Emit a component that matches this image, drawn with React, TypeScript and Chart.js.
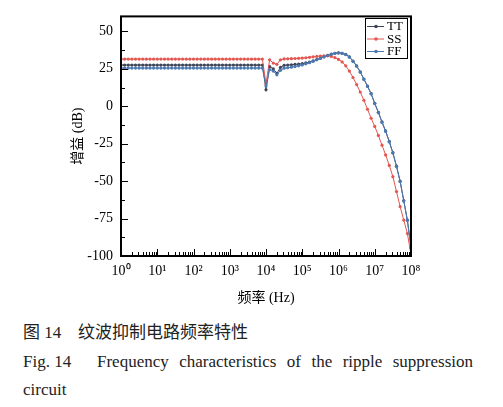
import React, { useEffect, useRef } from "react";
import { Chart, registerables } from "chart.js";

Chart.register(...registerables);

// log10 of frequency (Hz) for each sample
const EXPONENTS = [
  0, 0.1, 0.2, 0.3, 0.4, 0.5, 0.6, 0.7, 0.8, 0.9,
  1, 1.1, 1.2, 1.3, 1.4, 1.5, 1.6, 1.7, 1.8, 1.9,
  2, 2.1, 2.2, 2.3, 2.4, 2.5, 2.6, 2.7, 2.8, 2.9,
  3, 3.1, 3.2, 3.3, 3.4, 3.5, 3.6, 3.7, 3.8, 3.9,
  4, 4.1, 4.2, 4.3, 4.4, 4.5, 4.6, 4.7, 4.8, 4.9,
  5, 5.1, 5.2, 5.3, 5.4, 5.5, 5.6, 5.7, 5.8, 5.9,
  6, 6.1, 6.2, 6.3, 6.4, 6.5, 6.6, 6.7, 6.8, 6.9,
  7, 7.1, 7.2, 7.3, 7.4, 7.5, 7.6, 7.7, 7.8, 7.9,
  8,
];

const TT = [
  27.5, 27.5, 27.5, 27.5, 27.5, 27.5, 27.5, 27.5, 27.5, 27.5,
  27.5, 27.5, 27.5, 27.5, 27.5, 27.5, 27.5, 27.5, 27.5, 27.5,
  27.5, 27.5, 27.5, 27.5, 27.5, 27.5, 27.5, 27.5, 27.5, 27.5,
  27.5, 27.5, 27.5, 27.5, 27.5, 27.5, 27.5, 27.5, 27.5, 27.5,
  11, 26.5, 25, 22, 26, 27.3, 27.5, 27.7, 27.9, 28.1,
  28.4, 28.9, 29.5, 30.3, 31.2, 32.1, 33, 34, 34.8, 35.4,
  35.7, 35.4, 34.6, 33, 30.2, 27, 23, 18.2, 13.5, 8.5,
  2, -4, -10.5, -16.5, -23.5, -31, -40, -50, -63, -76,
  -94,
];

const SS = [
  31.5, 31.5, 31.5, 31.5, 31.5, 31.5, 31.5, 31.5, 31.5, 31.5,
  31.5, 31.5, 31.5, 31.5, 31.5, 31.5, 31.5, 31.5, 31.5, 31.5,
  31.5, 31.5, 31.5, 31.5, 31.5, 31.5, 31.5, 31.5, 31.5, 31.5,
  31.5, 31.5, 31.5, 31.5, 31.5, 31.5, 31.5, 31.5, 31.5, 31.5,
  15, 31, 28.8, 28, 31, 31.6, 31.7, 31.8, 31.9, 32,
  32.2, 32.4, 32.7, 33, 33.3, 33.5, 33.7, 33.7, 33.3, 32.5,
  31.3, 29.6, 27, 23.5, 19.2, 14.5, 9.5, 4, -2, -8,
  -13.5, -19.5, -26, -32.5, -39.5, -47, -57, -67, -76, -85,
  -99,
];

const FF = [
  25.5, 25.5, 25.5, 25.5, 25.5, 25.5, 25.5, 25.5, 25.5, 25.5,
  25.5, 25.5, 25.5, 25.5, 25.5, 25.5, 25.5, 25.5, 25.5, 25.5,
  25.5, 25.5, 25.5, 25.5, 25.5, 25.5, 25.5, 25.5, 25.5, 25.5,
  25.5, 25.5, 25.5, 25.5, 25.5, 25.5, 25.5, 25.5, 25.5, 25.5,
  13.5, 24.5, 23.5, 21, 24, 25.4, 25.7, 26.1, 26.5, 27,
  27.6, 28.3, 29.1, 30, 31, 32, 33, 33.9, 34.7, 35.3,
  35.6, 35.3, 34.5, 32.8, 30, 26.7, 22.7, 17.9, 13.2, 8.2,
  1.7, -4.3, -10.8, -16.8, -23.8, -31.3, -40.3, -50.3, -63.3, -76.3,
  -95,
];

const SERIES_NAMES = ["TT", "SS", "FF"];
const SERIES_COLORS = ["#3f4556", "#e2574f", "#4a79b3"];
const X_TICKS = [1, 10, 100, 1e3, 1e4, 1e5, 1e6, 1e7, 1e8];
const Y_TICKS = [-100, -75, -50, -25, 0, 25, 50];
const SUPERSCRIPTS = ["\u2070", "\u00b9", "\u00b2", "\u00b3", "\u2074", "\u2075", "\u2076", "\u2077", "\u2078"];

const FONT = "'Liberation Serif', 'Times New Roman', 'Noto Sans CJK SC', serif";

const framePlugin = {
  id: "frameTicksLegend",
  afterDatasetsDraw(chart: any) {
    const { ctx, chartArea: a, scales } = chart;
    const xs = scales.x;
    const ys = scales.y;
    ctx.save();
    ctx.strokeStyle = "#000";
    ctx.lineWidth = 1;
    ctx.beginPath();
    // y ticks (inside, left axis)
    for (let i = 0; i < Y_TICKS.length; i++) {
      const v = Y_TICKS[i];
      const py = Math.round(ys.getPixelForValue(v)) + 0.5;
      ctx.moveTo(a.left, py);
      ctx.lineTo(a.left + 7, py);
      if (i < Y_TICKS.length - 1) {
        const pm = Math.round(ys.getPixelForValue(v + 12.5)) + 0.5;
        ctx.moveTo(a.left, pm);
        ctx.lineTo(a.left + 4, pm);
      }
    }
    // x ticks (inside, bottom axis)
    for (let k = 0; k < X_TICKS.length; k++) {
      const v = X_TICKS[k];
      const px = Math.round(xs.getPixelForValue(v)) + 0.5;
      ctx.moveTo(px, a.bottom);
      ctx.lineTo(px, a.bottom - 7);
      if (k < X_TICKS.length - 1) {
        for (let m = 2; m <= 9; m++) {
          const pm = Math.round(xs.getPixelForValue(v * m)) + 0.5;
          ctx.moveTo(pm, a.bottom);
          ctx.lineTo(pm, a.bottom - 4);
        }
      }
    }
    ctx.stroke();
    // frame
    ctx.lineWidth = 2;
    ctx.strokeRect(a.left, a.top, a.right - a.left, a.bottom - a.top);

    // legend
    const bx = 365, by = 18, bw = 42, bh = 40;
    ctx.fillStyle = "#fff";
    ctx.fillRect(bx, by, bw, bh);
    ctx.lineWidth = 1;
    ctx.strokeStyle = "#000";
    ctx.strokeRect(bx + 0.5, by + 0.5, bw, bh);
    ctx.font = "13px " + FONT;
    ctx.textBaseline = "middle";
    ctx.textAlign = "left";
    const rows = [26.5, 39, 51.5];
    chart.data.datasets.forEach((ds: any, i: number) => {
      const ry = rows[i];
      ctx.strokeStyle = ds.borderColor;
      ctx.lineWidth = 1;
      ctx.beginPath();
      ctx.moveTo(367, ry);
      ctx.lineTo(384, ry);
      ctx.stroke();
      ctx.fillStyle = ds.borderColor;
      ctx.beginPath();
      ctx.arc(376, ry, 1.8, 0, Math.PI * 2);
      ctx.fill();
      ctx.fillStyle = "#000";
      ctx.fillText(ds.label, 387, ry + 0.5);
    });
    ctx.restore();
  },
};

export default function App() {
  const canvasRef = useRef<HTMLCanvasElement | null>(null);

  useEffect(() => {
    if (!canvasRef.current) return;
    const freqs = EXPONENTS.map((e) => Math.pow(10, e));
    const series = [TT, SS, FF];
    const orders = [2, 1, 0];
    const chart = new Chart(canvasRef.current, {
      type: "line",
      data: {
        datasets: series.map((vals, i) => ({
          label: SERIES_NAMES[i],
          data: vals.map((v, j) => ({ x: freqs[j], y: v })),
          borderColor: SERIES_COLORS[i],
          backgroundColor: SERIES_COLORS[i],
          pointBackgroundColor: SERIES_COLORS[i],
          pointBorderWidth: 0,
          pointRadius: 1.6,
          borderWidth: 1,
          tension: 0,
          fill: false,
          order: orders[i],
        })),
      },
      options: {
        responsive: false,
        animation: false,
        devicePixelRatio: 1,
        layout: { padding: { top: 14, right: 92, bottom: 0, left: 0 } },
        plugins: {
          legend: { display: false },
          tooltip: { enabled: false },
        },
        scales: {
          x: {
            type: "logarithmic",
            min: 1,
            max: 1e8,
            grid: { display: false, drawTicks: false },
            border: { display: false },
            afterBuildTicks: (s: any) => {
              s.ticks = X_TICKS.map((v) => ({ value: v }));
            },
            afterFit: (s: any) => {
              s.height = 64;
            },
            ticks: {
              autoSkip: false,
              maxRotation: 0,
              padding: 7,
              color: "#000",
              font: { family: FONT, size: 14 },
              callback: (v: any) => "10" + SUPERSCRIPTS[Math.round(Math.log10(Number(v)))],
            },
            title: {
              display: true,
              text: "频率 (Hz)",
              color: "#000",
              font: { family: FONT, size: 14 },
              padding: { top: 0, bottom: 13 },
            },
          },
          y: {
            type: "linear",
            min: -100,
            max: 60,
            grid: { display: false, drawTicks: false },
            border: { display: false },
            afterBuildTicks: (s: any) => {
              s.ticks = Y_TICKS.map((v) => ({ value: v }));
            },
            afterFit: (s: any) => {
              s.width = 121;
            },
            ticks: {
              padding: 8,
              color: "#000",
              font: { family: FONT, size: 14 },
            },
            title: {
              display: true,
              text: "增益 (dB)",
              color: "#000",
              font: { family: FONT, size: 14 },
              padding: { top: 70, bottom: 0 },
            },
          },
        },
      } as any,
      plugins: [framePlugin],
    });
    return () => chart.destroy();
  }, []);

  const textStyle: React.CSSProperties = {
    position: "absolute",
    fontFamily: FONT,
    fontSize: 17,
    lineHeight: "20px",
    color: "#222",
    whiteSpace: "nowrap",
  };

  return (
    <div style={{ position: "absolute", left: 0, top: 0, width: 503, height: 407, background: "#fff", overflow: "hidden" }}>
      <canvas ref={canvasRef} width={503} height={320} style={{ position: "absolute", left: 0, top: 0, width: 503, height: 320 }} />
      <div style={{ ...textStyle, left: 23, top: 323 }}>图 14</div>
      <div style={{ ...textStyle, left: 78, top: 323 }}>纹波抑制电路频率特性</div>
      <div style={{ ...textStyle, left: 23, top: 352 }}>Fig. 14</div>
      <div
        style={{
          ...textStyle,
          left: 97,
          top: 352,
          width: 376,
          whiteSpace: "normal",
          textAlign: "justify",
          textAlignLast: "justify",
        }}
      >
        Frequency characteristics of the ripple suppression
      </div>
      <div style={{ ...textStyle, left: 23, top: 380 }}>circuit</div>
    </div>
  );
}
